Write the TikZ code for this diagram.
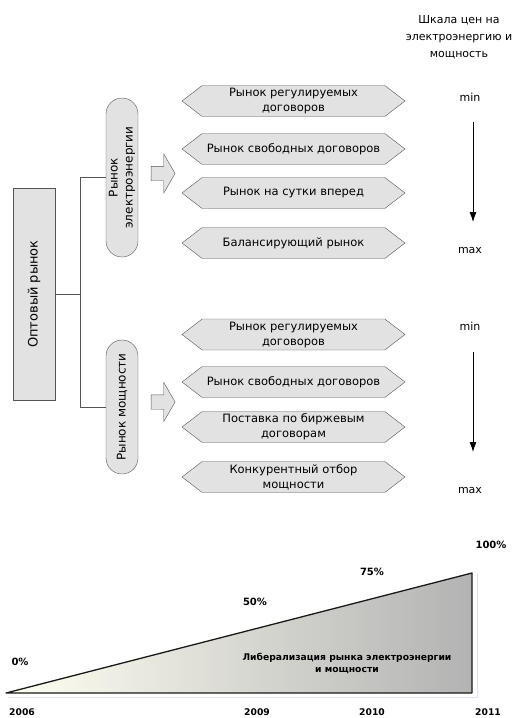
\documentclass[tikz,border=0pt]{standalone}
\usepackage{fontspec}
\setmainfont{DejaVu Sans}
\usetikzlibrary{
    shapes.symbols,
    shapes.misc,
    shapes.arrows,
    arrows.meta,
    positioning
}
\definecolor{boxfill}{HTML}{E2E2E2}
\definecolor{boxline}{HTML}{555555}
\tikzset{
    market/.style={signal, signal to=west and east, signal pointer angle=75,
        draw=boxline, fill=boxfill, minimum width=223pt, minimum height=31pt,
        inner sep=0pt, align=center, font=\fontsize{11.5}{15}\selectfont},
    capsule/.style={rounded rectangle, rotate=90, draw=boxline, fill=boxfill,
        minimum height=32pt, inner sep=0pt, align=center,
        font=\fontsize{12}{15}\selectfont},
    fatarrow/.style={single arrow, draw=boxline, fill=boxfill, minimum height=24pt,
        minimum width=39pt, single arrow head extend=12.5pt,
        single arrow tip angle=120, inner xsep=0pt, inner ysep=7pt},
    scale label/.style={font=\fontsize{11}{17}\selectfont, align=center},
    chart label/.style={font=\fontsize{9.2}{12}\selectfont\bfseries, align=center},
    percent label/.style={font=\fontsize{10}{12}\selectfont\bfseries}
}

\begin{document}
\begin{tikzpicture}[x=1pt, y=-1pt]
    \useasboundingbox (0,0) rectangle (519,718);
    % wholesale market and its two parts
    \node[draw=boxline, fill=boxfill, minimum width=212pt, minimum height=42pt,
        rotate=90, font=\fontsize{13}{15}\selectfont] (opt) at (34,294) {Оптовый рынок};
    \node[capsule, minimum width=159pt] (energy) at (122,177.5) {Рынок\\электроэнергии};
    \node[capsule, minimum width=134pt] (power) at (122,407) {Рынок мощности};
    \coordinate (fork) at (80,294);
    \draw[boxline, line width=0.6pt] (opt.south) -- (fork);
    \draw[boxline, line width=0.6pt] (fork) |- (energy.north);
    \draw[boxline, line width=0.6pt] (fork) |- (power.north);

    \node[fatarrow] (arr1) at (161,173.5) {};
    \node[fatarrow] (arr2) at (161,402) {};

    % energy market segments
    \node[market] (e1) at (293.5,101) {Рынок регулируемых\\договоров};
    \node[market] (e2) at (293.5,149) {Рынок свободных договоров};
    \node[market] (e3) at (293.5,193) {Рынок на сутки вперед};
    \node[market] (e4) at (293.5,243) {Балансирующий рынок};

    % capacity market segments
    \node[market] (p1) at (293.5,334.5) {Рынок регулируемых\\договоров};
    \node[market] (p2) at (293.5,382) {Рынок свободных договоров};
    \node[market] (p3) at (293.5,427) {Поставка по биржевым\\договорам};
    \node[market] (p4) at (293.5,477) {Конкурентный отбор\\мощности};

    % price scale
    \node[scale label] (scale) at (459,37) {Шкала цен на\\электроэнергию и\\мощность};
    \node[scale label] (min1) at (470,97) {min};
    \node[scale label] (max1) at (470,250) {max};
    \node[scale label] (min2) at (470,326) {min};
    \node[scale label] (max2) at (470,490) {max};
    \draw[-{Latex[length=10pt,width=7pt]}, line width=0.8pt] (473,122) -- (473,222);
    \draw[-{Latex[length=10pt,width=7pt]}, line width=0.8pt] (473,352) -- (473,452);

    % liberalisation chart
    \coordinate (t0) at (6,693);
    \coordinate (t1) at (472,573);
    \coordinate (t2) at (472,693);
    \draw[blue!12, line width=0.8pt] (477,573) -- (477,697) -- (8,697);
    \shade[left color=white!95!yellow, right color=black!30] (t0) -- (t1) -- (t2) -- cycle;
    \draw[black!90, line width=1.3pt, line join=round] (t0) -- (t1) -- (t2) -- cycle;
    \node[chart label] (lib) at (347,663) {Либерализация рынка электроэнергии\\и мощности};
    \node[percent label] (pc0) at (20,662) {0\%};
    \node[percent label] (pc50) at (255,602) {50\%};
    \node[percent label] (pc75) at (372,572) {75\%};
    \node[percent label] (pc100) at (491,545) {100\%};
    \node[chart label] (y2006) at (22,712) {2006};
    \node[chart label] (y2009) at (257,712) {2009};
    \node[chart label] (y2010) at (372,712) {2010};
    \node[chart label] (y2011) at (488,712) {2011};
\end{tikzpicture}
\end{document}
